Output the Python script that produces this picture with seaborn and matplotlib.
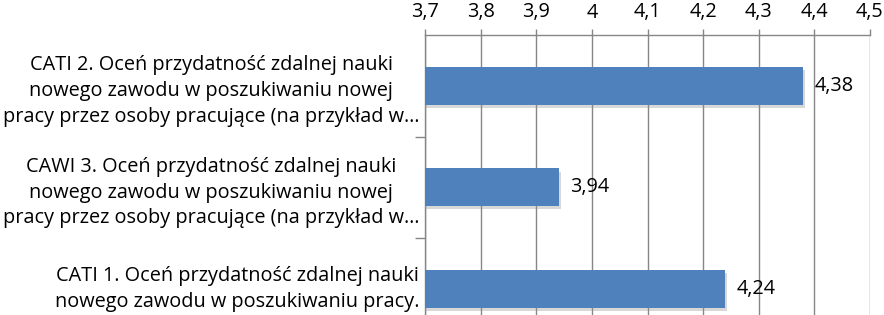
import matplotlib
matplotlib.use("Agg")
import matplotlib.pyplot as plt
import matplotlib.patheffects as pe
import matplotlib.transforms as mtransforms
import seaborn as sns
import pandas as pd
import numpy as np

categories = [
    "CATI 2. Oceń przydatność zdalnej nauki\nnowego zawodu w poszukiwaniu nowej\npracy przez osoby pracujące (na przykład w…",
    "CAWI 3. Oceń przydatność zdalnej nauki\nnowego zawodu w poszukiwaniu nowej\npracy przez osoby pracujące (na przykład w…",
    "CATI 1. Oceń przydatność zdalnej nauki\nnowego zawodu w poszukiwaniu pracy.",
]
values = [4.38, 3.94, 4.24]
x_ticks = [3.7, 3.8, 3.9, 4.0, 4.1, 4.2, 4.3, 4.4, 4.5]
x_tick_labels = ["3,7", "3,8", "3,9", "4", "4,1", "4,2", "4,3", "4,4", "4,5"]
value_labels = ["4,38", "3,94", "4,24"]

sns.set_theme(style="white")
plt.rcParams['font.family'] = ['Open Sans', 'DejaVu Sans']

df = pd.DataFrame({"cat": categories, "val": values})

fig = plt.figure(figsize=(8.84, 3.15), dpi=100)
ax = fig.add_axes([425/884, -24.5/315, 445/884, 304.5/315])

grid_color = "#868686"
bar_color = "#4F81BD"

sns.barplot(data=df, y="cat", x="val", orient="h", color=bar_color,
            width=0.37, saturation=1, ax=ax, zorder=3)

for p in ax.patches:
    p.set_edgecolor("none")
    p.set_path_effects([pe.SimplePatchShadow(offset=(1.5, -2.5), shadow_rgbFace="#909090", alpha=0.35), pe.Normal()])

ax.set_xlim(3.7, 4.5)
ax.set_ylim(2.5, -0.5)
ax.xaxis.tick_top()
ax.set_xticks(x_ticks)
ax.set_xticklabels(x_tick_labels)
ax.set_xlabel("")
ax.set_ylabel("")

ax.grid(axis="x", color=grid_color, linewidth=1.0, zorder=0)
ax.set_axisbelow(True)

for side in ["right", "bottom"]:
    ax.spines[side].set_visible(False)
for side in ["top", "left"]:
    ax.spines[side].set_visible(True)
    ax.spines[side].set_color(grid_color)
    ax.spines[side].set_linewidth(1.0)

fs = 14.3
ax.tick_params(axis="x", which="major", top=True, bottom=False, direction="out",
               length=4, width=1, color=grid_color, pad=5, labelsize=fs, labelcolor="#000000")
ax.set_yticks([0, 1, 2])
ax.set_yticklabels(categories)
ax.tick_params(axis="y", which="major", left=False, length=0, pad=4, labelsize=fs, labelcolor="#000000")
ax.set_yticks([0.5, 1.5], minor=True)
ax.tick_params(axis="y", which="minor", left=True, direction="out", length=7, width=1, color=grid_color)

for lab in ax.get_yticklabels():
    lab.set_multialignment("center")
    lab.set_linespacing(1.38)

# nudge the last (two-line) label up slightly so its descenders stay inside the figure
last = ax.get_yticklabels()[-1]
last.set_transform(last.get_transform() + mtransforms.ScaledTranslation(0, 5/100, fig.dpi_scale_trans))

ax.bar_label(ax.containers[0], labels=value_labels, padding=8, fontsize=fs, color="#000000")

fig.savefig("out.png", dpi=100)
